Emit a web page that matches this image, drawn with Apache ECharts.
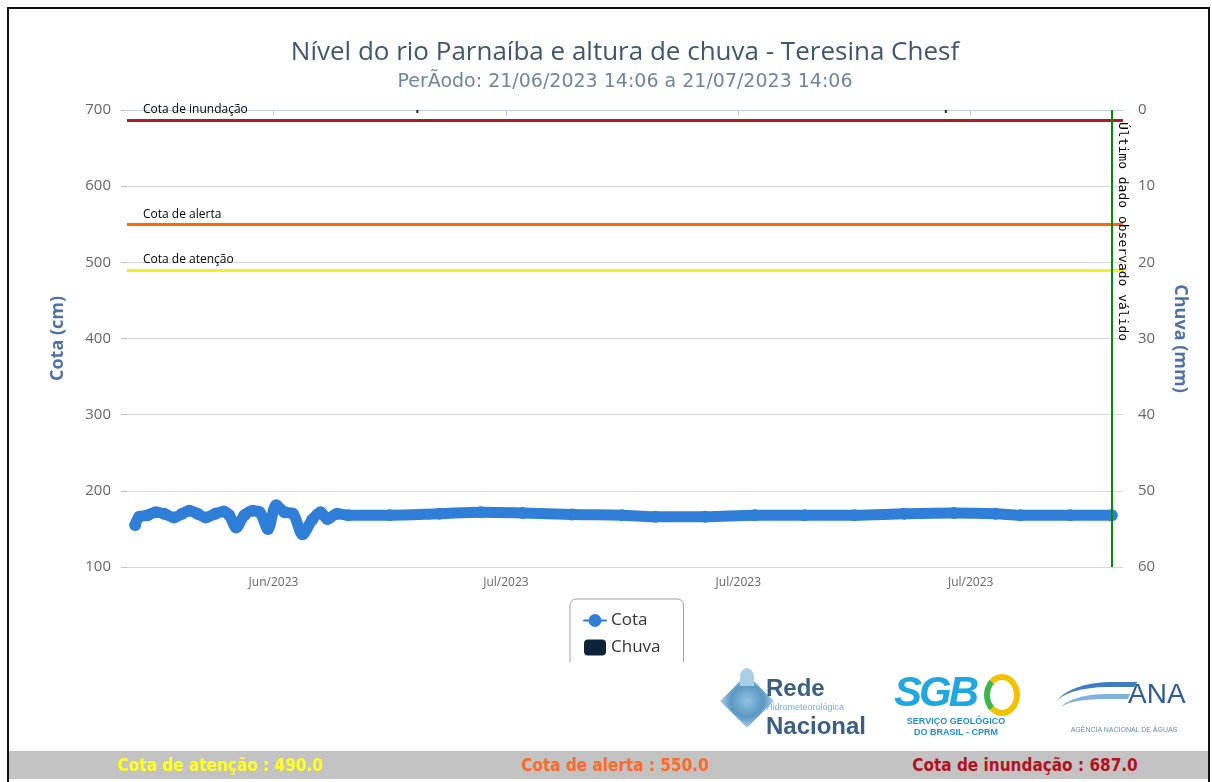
<!DOCTYPE html>
<html>
<head>
<meta charset="utf-8">
<title>Teresina Chesf</title>
<script src="https://cdn.jsdelivr.net/npm/echarts@6/dist/echarts.min.js"></script>
<style>
  body { margin: 0; background: #fff; font-family: "Open Sans", sans-serif; }
  #frame { position: absolute; left: 7px; top: 7px; width: 1199px; height: 790px;
           border: 2px solid #111; border-bottom: none; }
  #chart { position: absolute; left: 0; top: 0; width: 1212px; height: 782px; }
  #cut { position: absolute; left: 560px; top: 662px; width: 140px; height: 30px; background: #fff; }
  .logo { position: absolute; top: 668px; height: 78px; }
  #bar { position: absolute; left: 9px; top: 751px; width: 1199px; height: 28px; background: #c3c3c3;
         font-family: "Liberation Sans Narrow", "DejaVu Sans Condensed", sans-serif; font-weight: bold; font-size: 17px; }
  #bar span { position: absolute; top: 4px; transform: translateX(-50%); white-space: nowrap; }
</style>
</head>
<body>
<div id="frame"></div>
<div id="chart"></div>
<div id="cut"></div>

<div class="logo" style="left:722px;width:140px;">
  <div style="position:absolute;left:6px;top:14px;width:38px;height:38px;transform:rotate(45deg);
              background:radial-gradient(circle,#7fb6d9 0%,#3d86b8 60%,#9cc8e4 100%);opacity:.85;"></div>
  <div style="position:absolute;left:18px;top:0;width:14px;height:18px;border-radius:50% 50% 0 0;background:#a9cfe6;"></div>
  <div style="position:absolute;left:44px;top:6px;font:bold 24px 'Liberation Sans Narrow',sans-serif;color:#3b5f80;">Rede</div>
  <div style="position:absolute;left:44px;top:34px;font:9px 'Liberation Sans Narrow',sans-serif;color:#6fb2dc;">Hidrometeorológica</div>
  <div style="position:absolute;left:44px;top:44px;font:bold 24px 'Liberation Sans Narrow',sans-serif;color:#3b5f80;">Nacional</div>
</div>
<div class="logo" style="left:892px;width:130px;">
  <div style="position:absolute;left:2px;top:0;font:900 42px 'Liberation Sans',sans-serif;color:#1ea7e1;letter-spacing:-3px;font-style:italic;">SGB</div>
  <div style="position:absolute;left:92px;top:6px;width:24px;height:30px;border:6px solid #f2c200;border-left-color:#3cb54a;border-radius:50%;"></div>
  <div style="position:absolute;left:0;top:48px;width:128px;text-align:center;font:900 9px 'Liberation Sans',sans-serif;color:#1c8fd0;line-height:11px;">SERVIÇO GEOLÓGICO<br>DO BRASIL - CPRM</div>
</div>
<div class="logo" style="left:1054px;width:140px;">
  <div style="position:absolute;left:4px;top:14px;width:70px;height:28px;border-top:5px solid #3f7cc0;border-radius:60% 0 0 0;transform:skewX(-30deg);"></div>
  <div style="position:absolute;left:8px;top:26px;width:62px;height:18px;border-top:5px solid #7fb0de;border-radius:60% 0 0 0;transform:skewX(-30deg);"></div>
  <div style="position:absolute;left:74px;top:10px;font:28px 'Liberation Sans',sans-serif;color:#2d5c9c;">ANA</div>
  <div style="position:absolute;left:0;top:58px;width:140px;text-align:center;font:7px 'Liberation Sans',sans-serif;color:#6a8ab0;">AGÊNCIA NACIONAL DE ÁGUAS</div>
</div>

<div id="bar">
  <span style="left:211px;color:#ffff1a;">Cota de atenção : 490.0</span>
  <span style="left:606px;color:#ff6a2a;">Cota de alerta : 550.0</span>
  <span style="left:1016px;color:#b3121e;">Cota de inundação : 687.0</span>
</div>

<script>
// valores
const cotaTimes = [
  "2023-06-21 20:00", "2023-06-21 23:00", "2023-06-22 05:00", "2023-06-22 11:00", "2023-06-22 17:00",
  "2023-06-23 00:00", "2023-06-23 06:00", "2023-06-23 11:00", "2023-06-23 17:00", "2023-06-23 23:00",
  "2023-06-24 06:00", "2023-06-24 12:00", "2023-06-24 16:00", "2023-06-24 21:00", "2023-06-25 03:00",
  "2023-06-25 09:00", "2023-06-25 14:00", "2023-06-25 20:00", "2023-06-26 02:00", "2023-06-26 08:00",
  "2023-06-26 14:00", "2023-06-26 21:00", "2023-06-27 04:00", "2023-06-27 10:00", "2023-06-27 15:00",
  "2023-06-27 22:00", "2023-06-28 06:00", "2023-06-29 12:00", "2023-07-01 00:00", "2023-07-02 06:00",
  "2023-07-03 12:00", "2023-07-05 00:00", "2023-07-06 12:00", "2023-07-07 12:00", "2023-07-09 00:00",
  "2023-07-10 12:00", "2023-07-12 00:00", "2023-07-13 12:00", "2023-07-15 00:00", "2023-07-16 12:00",
  "2023-07-17 18:00", "2023-07-18 12:00", "2023-07-20 00:00", "2023-07-21 06:00"
];
const cotaValues = [
  155, 166, 168, 172, 170,
  165, 170, 174, 170, 165,
  170, 173, 168, 152, 168,
  174, 172, 150, 181, 172,
  170, 143, 162, 172, 163,
  170, 168, 168, 170, 172,
  171, 169, 168, 166, 166,
  168, 168, 168, 170, 171,
  170, 168, 168, 168
];
const chuvaTimes = ["2023-06-30 08:00", "2023-07-16 06:00"];
const chuvaValues = [0.4, 0.4];

const cotaTicks = [100, 200, 300, 400, 500, 600, 700];
const chuvaTicks = [0, 10, 20, 30, 40, 50, 60];
const xTickDates = ["2023-06-26 00:00", "2023-07-03 00:00", "2023-07-10 00:00", "2023-07-17 00:00"];
const xTickLabels = ["Jun/2023", "Jul/2023", "Jul/2023", "Jul/2023"];

const cotaAtencao = 490;
const cotaAlerta = 550;
const cotaInundacao = 687;
const ultimoDado = "2023-07-21 06:00";

const xMin = "2023-06-21 14:06";
const xMax = "2023-07-21 14:06";

function toTime(s) {
  return echarts.time.parse(s).getTime();
}

const tickTimes = xTickDates.map(toTime);

let myChart = echarts.init(document.getElementById("chart"));
const option = {
  animation: false,
  textStyle: { fontFamily: "Open Sans" },
  title: {
    text: "Nível do rio Parnaíba e altura de chuva - Teresina Chesf",
    subtext: "PerÃodo: 21/06/2023 14:06 a 21/07/2023 14:06",
    left: 620,
    textAlign: "center",
    top: 35,
    itemGap: 7,
    textStyle: { color: "#3e576f", fontSize: 26, fontWeight: "normal" },
    subtextStyle: { color: "#6d869f", fontSize: 19, fontFamily: "DejaVu Sans" },
  },
  grid: { left: 127, right: 89, top: 110, bottom: 215 },
  legend: {
    orient: "vertical",
    left: 570,
    top: 599,
    padding: [13, 23, 12, 13],
    itemGap: 10,
    itemWidth: 22,
    itemHeight: 16,
    borderColor: "#a0a0a0",
    borderWidth: 1,
    borderRadius: 6,
    textStyle: { color: "#333", fontSize: 17 },
    data: ["Cota", "Chuva"],
  },
  xAxis: {
    // eixo numérico em milissegundos, para poder fixar os ticks semanais
    type: "value",
    min: toTime(xMin),
    max: toTime(xMax),
    splitLine: { show: false },
    axisLine: { lineStyle: { color: "#c0d0e0" } },
    axisTick: { show: true, length: 6, customValues: tickTimes, lineStyle: { color: "#c0d0e0" } },
    axisLabel: {
      customValues: tickTimes,
      color: "#666",
      fontSize: 12,
      margin: 10,
      formatter: function (v) {
        const i = tickTimes.indexOf(v);
        return i >= 0 ? xTickLabels[i] : "";
      },
    },
  },
  yAxis: [
    {
      type: "value",
      name: "Cota (cm)",
      nameLocation: "middle",
      nameGap: 60,
      nameTextStyle: { color: "#4d72a8", fontSize: 18, fontWeight: "bold" },
      min: cotaTicks[0],
      max: cotaTicks[cotaTicks.length - 1],
      interval: 100,
      axisLine: { show: false },
      axisTick: { show: true, length: 6, lineStyle: { color: "#c0c0c0" } },
      axisLabel: { color: "#666", fontSize: 15, margin: 16 },
      splitLine: { lineStyle: { color: "#d8d8d8" } },
    },
    {
      type: "value",
      name: "Chuva (mm)",
      nameLocation: "middle",
      nameGap: 48,
      nameRotate: -90,
      nameTextStyle: { color: "#4d72a8", fontSize: 18, fontWeight: "bold" },
      inverse: true,
      min: chuvaTicks[0],
      max: chuvaTicks[chuvaTicks.length - 1],
      interval: 10,
      axisLine: { show: false },
      axisTick: { show: false },
      axisLabel: { color: "#666", fontSize: 15, margin: 15 },
      splitLine: { show: false },
    },
  ],
  series: [
    {
      name: "Cota",
      type: "line",
      yAxisIndex: 0,
      smooth: 0.35,
      symbol: "circle",
      symbolSize: 12,
      color: "#2f7ed8",
      lineStyle: { width: 11, cap: "round", join: "round" },
      data: cotaTimes.map((t, i) => [toTime(t), cotaValues[i]]),
      markLine: {
        silent: true,
        symbol: "none",
        label: { position: "insideStartTop", color: "#000", fontSize: 12, distance: [16, 4] },
        data: [
          { yAxis: cotaInundacao, name: "Cota de inundação", lineStyle: { color: "#b01c24", width: 3, type: "solid" },
            label: { formatter: "Cota de inundação" } },
          { yAxis: cotaAlerta, name: "Cota de alerta", lineStyle: { color: "#ff6a00", width: 3, type: "solid" },
            label: { formatter: "Cota de alerta" } },
          { yAxis: cotaAtencao, name: "Cota de atenção", lineStyle: { color: "#f2f21a", width: 3, type: "solid" },
            label: { formatter: "Cota de atenção" } },
          [
            { coord: [toTime(ultimoDado), 700], lineStyle: { color: "#0a8a0a", width: 2, type: "solid" },
              label: { formatter: "Último dado observado válido", fontSize: 13, fontFamily: "DejaVu Sans Mono",
                       distance: [12, 4] } },
            { coord: [toTime(ultimoDado), 100] },
          ],
        ],
      },
    },
    {
      name: "Chuva",
      type: "bar",
      yAxisIndex: 1,
      barWidth: 2,
      color: "#0d233a",
      data: chuvaTimes.map((t, i) => [toTime(t), chuvaValues[i]]),
    },
  ],
};
myChart.setOption(option);
window.onresize = function () {
  myChart.resize();
};
</script>
</body>
</html>
